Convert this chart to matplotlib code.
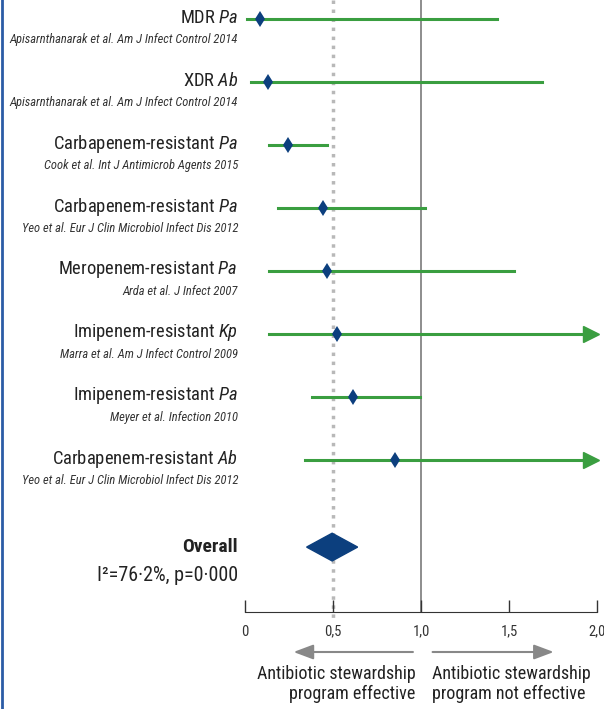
import numpy as np
import matplotlib
matplotlib.use("Agg")
import matplotlib.pyplot as plt
from matplotlib import font_manager
from matplotlib.patches import Polygon
from matplotlib.lines import Line2D
from matplotlib.transforms import blended_transform_factory

# study data (odds ratios with 95% CI)
labels = ["MDR", "XDR", "Carbapenem-resistant", "Carbapenem-resistant",
          "Meropenem-resistant", "Imipenem-resistant", "Imipenem-resistant",
          "Carbapenem-resistant"]
organisms = ["Pa", "Ab", "Pa", "Pa", "Pa", "Kp", "Pa", "Ab"]
citations = ["Apisarnthanarak et al. Am J Infect Control 2014",
             "Apisarnthanarak et al. Am J Infect Control 2014",
             "Cook et al. Int J Antimicrob Agents 2015",
             "Yeo et al. Eur J Clin Microbiol Infect Dis 2012",
             "Arda et al. J Infect 2007",
             "Marra et al. Am J Infect Control 2009",
             "Meyer et al. Infection 2010",
             "Yeo et al. Eur J Clin Microbiol Infect Dis 2012"]
est = [0.085, 0.13, 0.245, 0.445, 0.465, 0.52, 0.615, 0.85]
ci_lo = [0.01, 0.035, 0.135, 0.19, 0.135, 0.135, 0.38, 0.34]
ci_hi = [1.43, 1.69, 0.465, 1.02, 1.53, 2.5, 0.995, 2.5]

overall_est = 0.495
overall_lo = 0.35
overall_hi = 0.64
overall_stats = "I²=76·2%, p=0·000"

xticks = [0, 0.5, 1.0, 1.5, 2.0]
xticklabels = ["0", "0,5", "1,0", "1,5", "2,0"]

# pick a condensed font if there is one
names = {f.name for f in font_manager.fontManager.ttflist}
fam = "DejaVu Sans"
for cand in ["Roboto Condensed", "Liberation Sans Narrow", "DejaVu Sans Condensed", "Roboto"]:
    if cand in names:
        fam = cand
        break
plt.rcParams['font.family'] = [fam, 'DejaVu Sans']
plt.rcParams['mathtext.fontset'] = 'custom'
plt.rcParams['mathtext.rm'] = fam
plt.rcParams['mathtext.it'] = fam + ':italic'

green = "#3a9e40"
navy = "#0c3f7e"
grey = "#7a7a7a"

W, H = 604, 709
fig = plt.figure(figsize=(W/100, H/100), dpi=100)
ax = fig.add_axes([245/W, 1-612/H, 352/W, 612/H])
xmax = 2.0
ax.set_xlim(0, xmax)
ax.set_ylim(9.41, -0.30)

rows = np.arange(len(est))
overall_row = 8.38

# reference lines
ax.axvline(1.0, color=grey, lw=1.2, zorder=1)
ax.plot([0.5, 0.5], [-0.3, 9.55], color="#b8b8b8", lw=2.5, ls=(0, (1, 1.6)),
        clip_on=False, zorder=1)

for r, e, lo, hi in zip(rows, est, ci_lo, ci_hi):
    if hi > xmax:
        ax.plot([lo, xmax - 0.035], [r, r], color=green, lw=2.2, zorder=2)
        ax.plot(xmax - 0.035, r, marker=">", color=green, ms=11, zorder=2, clip_on=False)
    else:
        ax.plot([lo, hi], [r, r], color=green, lw=2.2, zorder=2)
    ax.plot(e, r, marker="d", color=navy, ms=8, mew=0, zorder=3)

# pooled diamond
dh = 0.22
ax.add_patch(Polygon([[overall_lo, overall_row], [overall_est, overall_row - dh],
                      [overall_hi, overall_row], [overall_est, overall_row + dh]],
                     closed=True, color=navy, zorder=3))

# row labels to the left of the axes
lab_x = -7/176
for r, lab, org, cit in zip(rows, labels, organisms, citations):
    ax.text(lab_x, r - 0.02, lab + " $\\it{" + org + "}$", ha="right", va="center",
            fontsize=13.3, color="#222222", clip_on=False)
    ax.text(lab_x, r + 0.32, cit, ha="right", va="center", fontsize=9,
            style="italic", color="#333333", clip_on=False)
ax.text(lab_x, overall_row, "Overall", ha="right", va="center", fontsize=14,
        fontweight="bold", color="#222222")
ax.text(lab_x, overall_row + 0.45, overall_stats, ha="right", va="center",
        fontsize=14.5, color="#222222")

# axis styling
for s in ["left", "top", "right"]:
    ax.spines[s].set_visible(False)
ax.spines["bottom"].set_color("#333333")
ax.set_yticks([])
ax.set_xticks(xticks)
ax.set_xticklabels(xticklabels)
ax.tick_params(axis="x", direction="in", length=9, width=1, color="#333333",
               labelsize=10.5, labelcolor="#333333", pad=9)
for t in ax.get_xticklabels():
    t.set_clip_on(False)

# direction arrows and captions under the axis
tr = blended_transform_factory(ax.transData, fig.transFigure)
ya = 1 - 652/H
ax.annotate("", xy=(0.26, ya), xytext=(0.97, ya), xycoords=tr, textcoords=tr,
            arrowprops=dict(arrowstyle="-|>,head_length=1.2,head_width=0.45",
                            color="#888888", lw=1.5))
ax.annotate("", xy=(1.77, ya), xytext=(1.05, ya), xycoords=tr, textcoords=tr,
            arrowprops=dict(arrowstyle="-|>,head_length=1.2,head_width=0.45",
                            color="#888888", lw=1.5))
ax.text(0.97, 1 - 684/H, "Antibiotic stewardship\nprogram effective", transform=tr,
        ha="right", va="center", multialignment="right", fontsize=13,
        color="#222222", linespacing=1.15)
ax.text(1.06, 1 - 684/H, "Antibiotic stewardship\nprogram not effective", transform=tr,
        ha="left", va="center", multialignment="left", fontsize=13,
        color="#222222", linespacing=1.15)

# blue frame line at the left edge
fig.add_artist(Line2D([1.5/W, 1.5/W], [0, 1], color="#2b5ca6", lw=2))

fig.savefig("out.png", dpi=100)
